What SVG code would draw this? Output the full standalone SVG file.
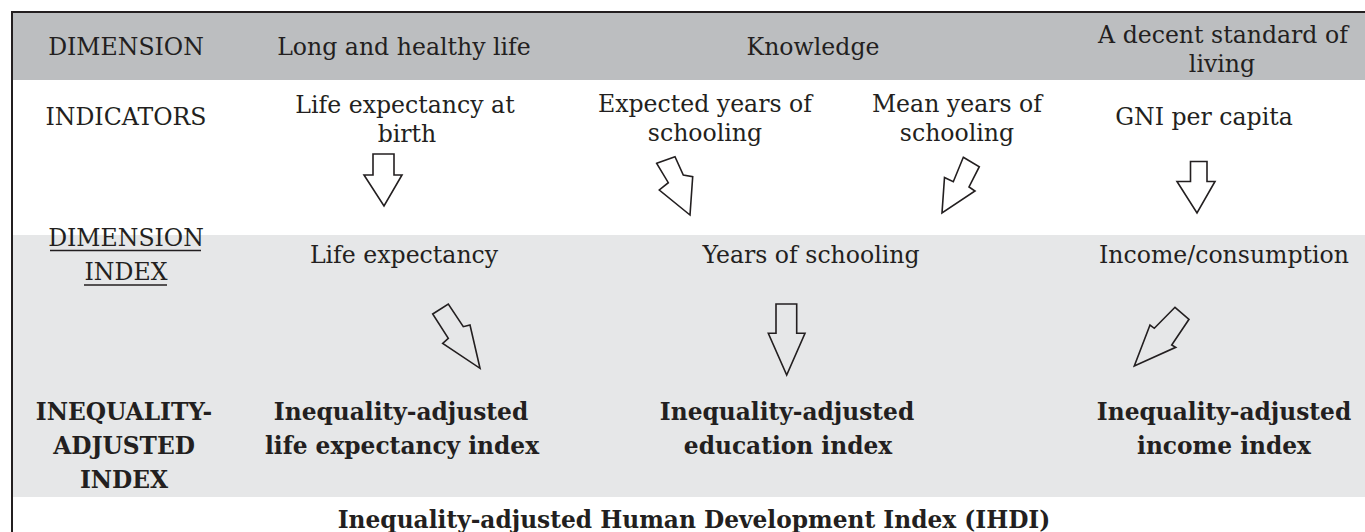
<svg xmlns="http://www.w3.org/2000/svg" width="1365" height="532" viewBox="0 0 1365 532">
<style>
.t{font-family:"DejaVu Serif","Liberation Serif",serif;font-size:23.6px;fill:#231f20;text-anchor:middle}
.b{font-family:"DejaVu Serif","Liberation Serif",serif;font-size:23.3px;font-weight:bold;fill:#231f20;text-anchor:middle}
.arr{fill:none;stroke:#231f20;stroke-width:1.6;stroke-linejoin:miter}
.ul{stroke:#231f20;stroke-width:1.6}
</style>
<rect x="0" y="0" width="1365" height="532" fill="#ffffff"/>
<rect x="13" y="13" width="1352" height="67" fill="#bcbec0"/>
<rect x="13" y="235" width="1352" height="262" fill="#e6e7e8"/>
<line x1="12" y1="12" x2="1365" y2="12" stroke="#231f20" stroke-width="2"/>
<line x1="12" y1="11" x2="12" y2="532" stroke="#231f20" stroke-width="2"/>

<g id="row-dimension">
<text class="t" x="126" y="55">DIMENSION</text>
<text class="t" x="404" y="55">Long and healthy life</text>
<text class="t" x="813" y="55">Knowledge</text>
<text class="t" x="1223" y="43">A decent standard of</text>
<text class="t" x="1222" y="72">living</text>
</g>

<g id="row-indicators">
<text class="t" x="126" y="125">INDICATORS</text>
<g id="ind-life"><text class="t" x="405" y="113">Life expectancy at</text><text class="t" x="407" y="142">birth</text></g>
<g id="ind-expected"><text class="t" x="705" y="112">Expected years of</text><text class="t" x="705" y="141">schooling</text></g>
<g id="ind-mean"><text class="t" x="957" y="112">Mean years of</text><text class="t" x="957" y="141">schooling</text></g>
<g id="ind-gni"><text class="t" x="1204" y="125">GNI per capita</text></g>
</g>

<g id="row-dimension-index">
<text class="t" x="126" y="246">DIMENSION</text>
<line class="ul" x1="50" y1="250.5" x2="201" y2="250.5"/>
<text class="t" x="126" y="280">INDEX</text>
<line class="ul" x1="84" y1="285" x2="167" y2="285"/>
<g id="di-life"><text class="t" x="404" y="263">Life expectancy</text></g>
<g id="di-school"><text class="t" x="811" y="263">Years of schooling</text></g>
<g id="di-income"><text class="t" x="1224" y="263">Income/consumption</text></g>
</g>

<g id="row-inequality">
<text class="b" x="124" y="420">INEQUALITY-</text>
<text class="b" x="124" y="454">ADJUSTED</text>
<text class="b" x="124" y="488">INDEX</text>
<g id="ia-life"><text class="b" x="401" y="420">Inequality-adjusted</text><text class="b" x="402" y="454">life expectancy index</text></g>
<g id="ia-edu"><text class="b" x="787" y="420">Inequality-adjusted</text><text class="b" x="788" y="454">education index</text></g>
<g id="ia-income"><text class="b" x="1224" y="420">Inequality-adjusted</text><text class="b" x="1224" y="454">income index</text></g>
</g>

<g id="ihdi">
<text class="b" x="694" y="528">Inequality-adjusted Human Development Index (IHDI)</text>
</g>

<g id="connectors">
<polygon class="arr" points="373,154 394,154 394,175 402,175 384,206 364,175 373,175"/>
<polygon class="arr" points="656.7,163.3 675,156.7 683.3,175 692.7,176.7 690,215 659.3,190 668.3,182.7"/>
<polygon class="arr" points="963.3,157.3 979.3,166.7 969,187 975,191 942,213 944.5,177.5 953.3,181.7"/>
<polygon class="arr" points="1190.5,161.5 1207,161.5 1207,181.5 1215,181.5 1197,213 1177,181.5 1190.5,181.5"/>
<polygon class="arr" points="432.7,314 448.3,304 463.3,326.7 470,325 480,368.3 442.7,343.3 448.3,338.3"/>
<polygon class="arr" points="776,304 796.7,304 796.7,333.3 805,333.3 786.7,375 768.3,333.3 776,333.3"/>
<polygon class="arr" points="1175,307.3 1189,319.3 1171.7,345 1175.7,347.3 1134.3,366 1150,325 1154.3,328.3"/>
</g>
</svg>
